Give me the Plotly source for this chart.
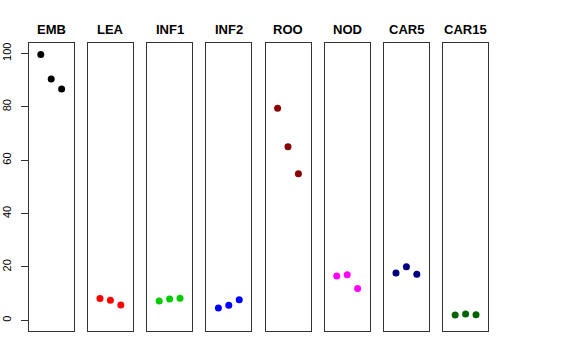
import plotly.graph_objects as go

groups = ["EMB", "LEA", "INF1", "INF2", "ROO", "NOD", "CAR5", "CAR15"]
colors = ["#000000", "#FF0000", "#00CD00", "#0000FF", "#8B0000", "#FF00FF", "#000080", "#006400"]
positions = [1, 2, 3]
emb = [99.6, 90.4, 86.7]
lea = [8.2, 7.5, 5.7]
inf1 = [7.2, 8.0, 8.3]
inf2 = [4.6, 5.6, 7.7]
roo = [79.4, 65.0, 54.9]
nod = [16.6, 17.1, 11.9]
car5 = [17.7, 20.1, 17.3]
car15 = [2.0, 2.4, 2.1]
values = [emb, lea, inf1, inf2, roo, nod, car5, car15]
y_ticks = [0, 20, 40, 60, 80, 100]

W, H = 576, 360
fig = go.Figure()
layout = dict(
    width=W, height=H, margin=dict(l=0, r=0, t=0, b=0, autoexpand=False),
    paper_bgcolor="white", plot_bgcolor="white", showlegend=False,
    font=dict(family="Liberation Sans, Arial, sans-serif", color="black"),
)
annotations = []
top_px, bot_px = 42.7, 331.0
for i, (g, c, v) in enumerate(zip(groups, colors, values)):
    left = 28.7 + 59.2 * i
    right = left + 45.0
    sfx = "" if i == 0 else str(i + 1)
    fig.add_trace(go.Scatter(
        x=positions, y=v, mode="markers",
        marker=dict(color=c, size=7),
        xaxis="x" + sfx, yaxis="y" + sfx, name=g,
    ))
    layout["xaxis" + sfx] = dict(
        domain=[left / W, right / W], range=[-0.16, 4.16],
        showgrid=False, zeroline=False, showticklabels=False, ticks="",
        showline=True, mirror=True, linecolor="#333333", linewidth=1,
        anchor="y" + sfx, fixedrange=True, automargin=False,
    )
    ya = dict(
        domain=[1 - bot_px / H, 1 - top_px / H], range=[-4, 104],
        showgrid=False, zeroline=False,
        showline=True, mirror=True, linecolor="#333333", linewidth=1,
        anchor="x" + sfx, fixedrange=True, automargin=False,
    )
    if i == 0:
        ya.update(tickmode="array", tickvals=y_ticks, ticks="outside",
                  ticklen=7, tickcolor="#333333", tickangle=-90,
                  ticklabelstandoff=5,
                  tickfont=dict(size=11, color="black"), showticklabels=True)
    else:
        ya.update(showticklabels=False, ticks="")
    layout["yaxis" + sfx] = ya
    annotations.append(dict(
        x=(left + right) / 2 / W, y=1 - 29 / H, xref="paper", yref="paper",
        text="<b>" + g + "</b>", showarrow=False, xanchor="center", yanchor="middle",
        font=dict(size=13, color="black"),
    ))
layout["annotations"] = annotations
fig.update_layout(**layout)
fig.write_html("out.html", config={"displayModeBar": False},
               post_script="document.body.style.margin='0px';")
